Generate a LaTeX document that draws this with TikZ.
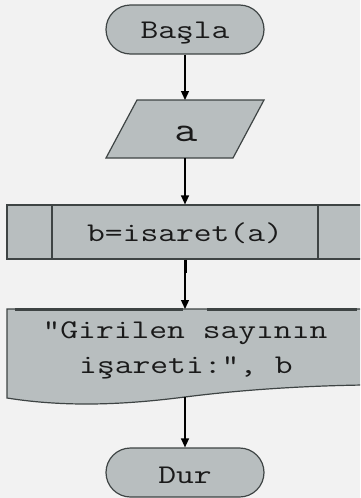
\documentclass[tikz,border=0pt]{standalone}
\usepackage{fontspec}
\setmonofont[FakeStretch=1.28]{Latin Modern Mono}
\usetikzlibrary{arrows.meta}
\definecolor{bg}{HTML}{F2F2F2}
\definecolor{shapefill}{HTML}{B8BEBF}
\definecolor{edge}{HTML}{3E4444}
\definecolor{ink}{HTML}{1A1A1A}
\tikzset{
  term/.style={draw=edge, fill=shapefill, line width=1.2pt, rounded corners=24.5pt,
    minimum width=158pt, minimum height=49pt, inner sep=0pt},
  ghost/.style={inner sep=0pt, outer sep=0pt},
  txt/.style={inner sep=0pt, text=ink, font=\ttfamily\fontsize{27}{35}\selectfont, anchor=base},
  conn/.style={draw=black, line width=1.3pt, -{Triangle[length=9pt,width=8pt]}},
  edgeline/.style={draw=edge, line width=1.2pt}
}
\begin{document}
\begin{tikzpicture}[x=1pt,y=-1pt]
\useasboundingbox (0,0) rectangle (360,498);
\fill[bg] (0,0) rectangle (360,498);
\clip (0,0) rectangle (360,498);

% Start
\node[term] (start) at (185,29.5) {};
\node[txt] (tstart) at (185,38) {Başla};

% Input parallelogram
\node[ghost, minimum width=158pt, minimum height=58pt] (inp) at (185,129) {};
\draw[edgeline, fill=shapefill] (106,158) -- (137,100) -- (264,100) -- (233,158) -- cycle;
\node[txt, font=\ttfamily\fontsize{35}{40}\selectfont] (tinp) at (186,141) {a};

% Predefined process
\node[draw=edge, fill=shapefill, line width=1.2pt, minimum width=356pt, minimum height=54pt, inner sep=0pt] (proc) at (185,232) {};
\draw[edgeline] (52,205) -- (52,259);
\draw[draw=edge, line width=2.2pt] (318,205) -- (318,259);
\node[txt] (tproc) at (185,241.7) {b=isaret(a)};

% Document
\node[ghost, minimum width=356pt, minimum height=88pt] (doc) at (185,353) {};
\draw[edgeline, fill=shapefill] (363,309) -- (7,309) -- (7,398)
  .. controls (70,408) and (130,404) .. (185,397)
  .. controls (240,390) and (300,386) .. (363,385) -- cycle;
\draw[draw=edge, line width=3pt] (15,309.5) -- (183,309.5);
\draw[draw=edge, line width=3pt] (207,309.5) -- (357,309.5);
\node[txt] (tdoc1) at (185,338) {“Girilen sayının};
\node[txt] (tdoc2) at (186,373) {işareti:”, b};

% End
\node[term] (stop) at (185,472.5) {};
\node[txt] (tstop) at (185,483) {Dur};

% Connectors
\draw[conn] (start.south) -- (inp.north);
\draw[conn] (inp.south) -- (proc.north);
\draw[conn] (proc.south) -- (doc.north);
\draw[draw=black, line width=3pt] (proc.south) -- ++(0,13);
\draw[conn] (doc.south) -- (stop.north);
\end{tikzpicture}
\end{document}
